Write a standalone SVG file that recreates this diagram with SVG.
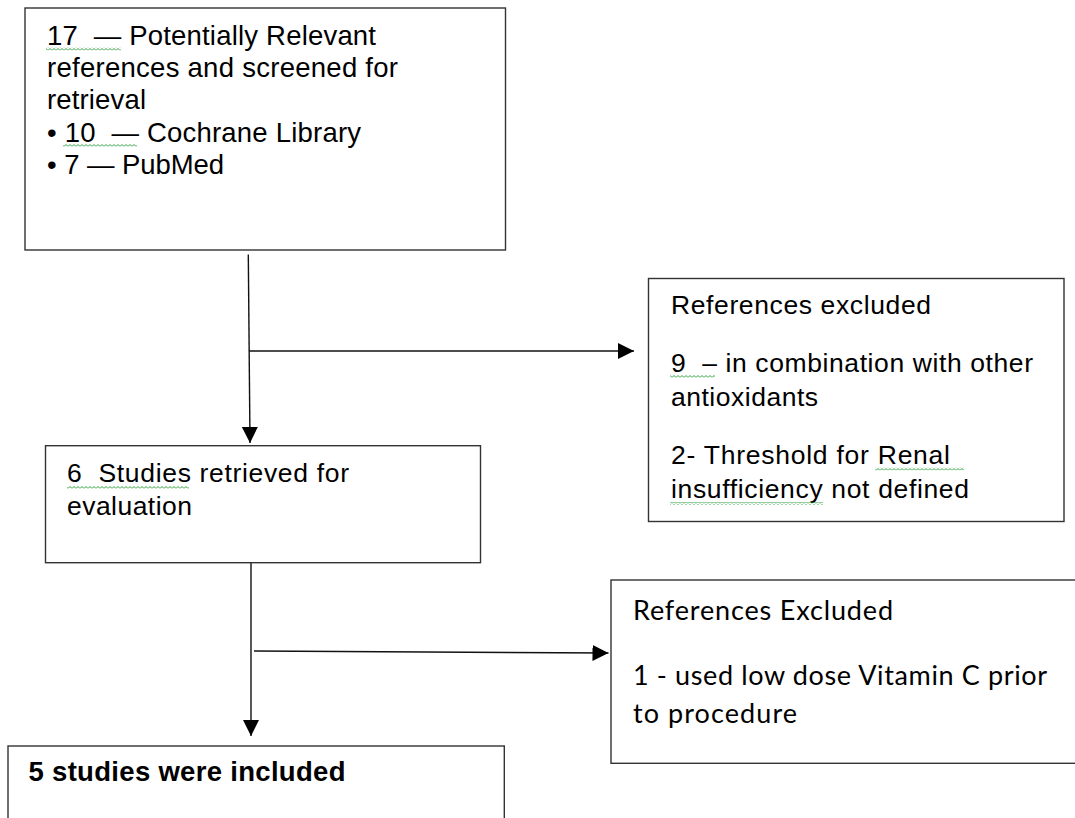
<svg xmlns="http://www.w3.org/2000/svg" width="1075" height="818" viewBox="0 0 1075 818">
<style>
.box{fill:#fff;stroke:#333;stroke-width:1.4}
.t{font-family:"Liberation Sans",Arial,sans-serif;font-size:26.5px;fill:#000;white-space:pre}
.t1{font-size:27.5px}
.c{font-family:Lato,"Open Sans",sans-serif;font-size:27px;fill:#000;white-space:pre}
.b{font-family:"Liberation Sans",Arial,sans-serif;font-size:27.5px;font-weight:bold;fill:#000;white-space:pre}
.line{fill:none;stroke:#111;stroke-width:1.4}
.wavy{fill:url(#wv)}
</style>
<defs>
<pattern id="wv" width="4" height="3" patternUnits="userSpaceOnUse">
<path d="M0,2.5 L2,0.5 L4,2.5" fill="none" stroke="#2e9e3a" stroke-width="1"/>
</pattern>
<marker id="ah" markerWidth="17" markerHeight="17" refX="16" refY="8" orient="auto" markerUnits="userSpaceOnUse">
<path d="M0,0 L16,8 L0,16 Z" fill="#000"/>
</marker>
</defs>
<rect width="1075" height="818" fill="#fff"/>
<g id="connectors">
<path class="line" d="M248.3,254.5 L250,443" marker-end="url(#ah)"/>
<path class="line" d="M249,351 L634,351" marker-end="url(#ah)"/>
<path class="line" d="M251,563 L251,736" marker-end="url(#ah)"/>
<path class="line" d="M254,651 L608.5,653" marker-end="url(#ah)"/>
</g>
<g id="node-potentially-relevant">
<rect class="box" x="25" y="8" width="480.5" height="242"/>
<text class="t t1" x="47" y="45" textLength="329">17  — Potentially Relevant</text>
<text class="t t1" x="47" y="77" textLength="351">references and screened for</text>
<text class="t t1" x="47" y="109" textLength="99">retrieval</text>
<text class="t t1" x="47" y="142" textLength="314">• 10  — Cochrane Library</text>
<text class="t t1" x="47" y="174" textLength="177">• 7 — PubMed</text>
<rect class="wavy" x="46" y="47.5" width="75" height="3"/>
<rect class="wavy" x="63" y="144" width="74" height="3"/>
</g>
<g id="node-references-excluded-1">
<rect class="box" x="648.5" y="278.5" width="415.5" height="243"/>
<text class="t" x="671" y="314" textLength="260">References excluded</text>
<text class="t" x="671" y="372" textLength="362">9  – in combination with other</text>
<text class="t" x="671" y="406" textLength="147">antioxidants</text>
<text class="t" x="671" y="464" textLength="279">2- Threshold for Renal</text>
<text class="t" x="671" y="498" textLength="298">insufficiency not defined</text>
<rect class="wavy" x="670" y="375" width="45" height="3"/>
<rect class="wavy" x="875" y="467.5" width="89" height="3"/>
<rect class="wavy" x="670" y="502" width="153" height="3"/>
</g>
<g id="node-studies-retrieved">
<rect class="box" x="45.5" y="445.7" width="435" height="117"/>
<text class="t" x="67" y="482" textLength="282">6  Studies retrieved for</text>
<text class="t" x="67" y="515" textLength="125">evaluation</text>
<rect class="wavy" x="67" y="486" width="122" height="3"/>
</g>
<g id="node-references-excluded-2">
<rect class="box" x="611" y="580" width="470" height="183.3"/>
<text class="c" x="633" y="620" textLength="260">References Excluded</text>
<text class="c" x="633" y="685" textLength="414">1 - used low dose Vitamin C prior</text>
<text class="c" x="633" y="723" textLength="164">to procedure</text>
</g>
<g id="node-studies-included">
<rect class="box" x="8" y="746" width="496.3" height="80"/>
<text class="b" x="28.5" y="781" textLength="317">5 studies were included</text>
</g>
</svg>
